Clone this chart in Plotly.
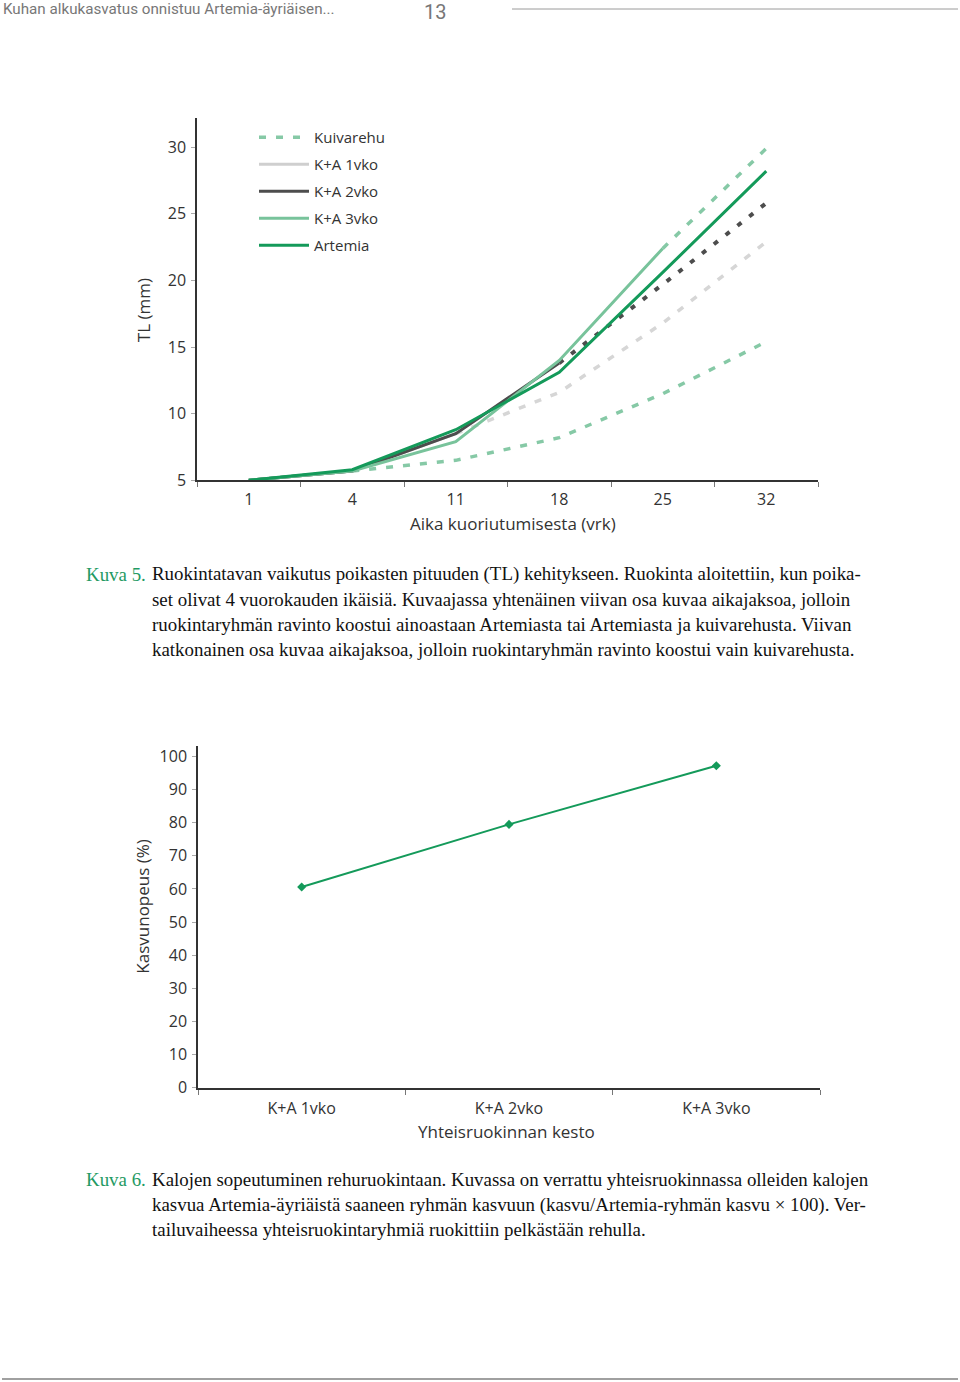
import plotly.graph_objects as go

W, H = 960, 1382          # page coordinates used for placing things
FIG_H = 1394              # figure height (photograph is squeezed to 1382)


def px(x):
    return x / W


def py(y):
    return 1 - y / H


# ---------------- data: figure 5 ----------------
days = ["1", "4", "11", "18", "25", "32"]
kuivarehu = [5.0, 5.7, 6.5, 8.2, 11.5, 15.4]
ka_1vko = [5.0, 5.7, 8.5, 11.6, 16.8, 22.9]
ka_2vko = [5.0, 5.7, 8.5, 13.8, 19.7, 25.8]
ka_3vko = [5.0, 5.7, 7.9, 14.0, 22.4, 29.9]
artemia = [5.0, 5.8, 8.8, 13.1, 20.6, 28.2]
series_names = ["Kuivarehu", "K+A 1vko", "K+A 2vko", "K+A 3vko", "Artemia"]
series_values = [kuivarehu, ka_1vko, ka_2vko, ka_3vko, artemia]
# index of the last day on which Artemia was still fed (after it: dry feed only)
last_artemia_index = [1, 2, 3, 4, 5]
y1_ticks = [5, 10, 15, 20, 25, 30]

# ---------------- data: figure 6 ----------------
groups = ["K+A 1vko", "K+A 2vko", "K+A 3vko"]
kasvunopeus = [60.6, 79.5, 97.2]
y2_ticks = [0, 10, 20, 30, 40, 50, 60, 70, 80, 90, 100]

# ---------------- styles ----------------
solid_style = {
    "Kuivarehu": dict(color="#86c9a6", width=3),
    "K+A 1vko": dict(color="#cfcfcf", width=3),
    "K+A 2vko": dict(color="#4d4d4d", width=3),
    "K+A 3vko": dict(color="#78c39b", width=3),
    "Artemia": dict(color="#149a5a", width=3),
}
dash_style = {
    "Kuivarehu": dict(color="#86c9a6", width=3.5, dash="7px,10px"),
    "K+A 1vko": dict(color="#d6d6d6", width=3.5, dash="7px,10px"),
    "K+A 2vko": dict(color="#4d4d4d", width=4, dash="5px,10px"),
    "K+A 3vko": dict(color="#86c9a6", width=3.5, dash="7px,10px"),
    "Artemia": dict(color="#149a5a", width=3, dash="7px,10px"),
}

FONT = "Open Sans"
TXT = "#333333"

fig = go.Figure()

for rank, (name, vals, sw) in enumerate(zip(series_names, series_values, last_artemia_index)):
    legend_on_dash = sw <= 1
    fig.add_trace(go.Scatter(
        x=days[: sw + 1], y=vals[: sw + 1], mode="lines", name=name,
        line=solid_style[name], legendgroup=name, legendrank=rank + 1,
        showlegend=not legend_on_dash, xaxis="x", yaxis="y", hoverinfo="x+y+name",
    ))
    if sw < len(days) - 1:
        fig.add_trace(go.Scatter(
            x=days[sw:], y=vals[sw:], mode="lines", name=name,
            line=dash_style[name], legendgroup=name, legendrank=rank + 1,
            showlegend=legend_on_dash, xaxis="x", yaxis="y", hoverinfo="x+y+name",
        ))

fig.add_trace(go.Scatter(
    x=groups, y=kasvunopeus, mode="lines+markers", name="Kasvunopeus",
    line=dict(color="#149a5a", width=2),
    marker=dict(symbol="diamond", size=7, color="#149a5a"),
    showlegend=False, xaxis="x2", yaxis="y2",
))

axis_common = dict(
    showgrid=False, zeroline=False, showline=True, linecolor="#333333", linewidth=1.5,
    tickfont=dict(family=FONT, size=16, color=TXT), ticks="outside",
)

fig.update_layout(
    width=W, height=FIG_H,
    margin=dict(l=0, r=0, t=0, b=0),
    paper_bgcolor="white", plot_bgcolor="white",
    font=dict(family=FONT, color=TXT),
    xaxis=dict(
        **axis_common, domain=[px(197), px(818)], anchor="y", type="category",
        categoryorder="array", categoryarray=days,
        range=[-0.5, 5.5], tickson="boundaries", ticklen=5, tickcolor="#777777",
        ticklabelstandoff=4,
    ),
    yaxis=dict(
        **axis_common, domain=[py(480), py(118)], anchor="x",
        range=[5, 32.18], tickvals=y1_ticks, ticklen=4, tickcolor="#aaaaaa",
        ticklabelstandoff=2,
    ),
    xaxis2=dict(
        **axis_common, domain=[px(198), px(820)], anchor="y2", type="category",
        categoryorder="array", categoryarray=groups,
        range=[-0.5, 2.5], tickson="boundaries", ticklen=5, tickcolor="#777777",
        ticklabelstandoff=5,
    ),
    yaxis2=dict(
        **axis_common, domain=[py(1087), py(745)], anchor="x2",
        range=[0, 103.3], tickvals=y2_ticks, ticklen=4, tickcolor="#aaaaaa",
        ticklabelstandoff=2,
    ),
    legend=dict(
        x=px(254), y=py(121), xanchor="left", yanchor="top",
        font=dict(family=FONT, size=15, color=TXT), bgcolor="rgba(255,255,255,0)",
        traceorder="grouped", tracegroupgap=4.5, itemwidth=50,
    ),
    showlegend=True,
)

ann = []
# axis titles
ann.append(dict(text="TL (mm)", x=px(143), y=py(310), textangle=-90,
                font=dict(family=FONT, size=17, color=TXT)))
ann.append(dict(text="Aika kuoriutumisesta (vrk)", x=px(513), y=py(523),
                font=dict(family=FONT, size=17, color=TXT)))
ann.append(dict(text="Kasvunopeus (%)", x=px(143), y=py(906), textangle=-90,
                font=dict(family=FONT, size=17, color=TXT)))
ann.append(dict(text="Yhteisruokinnan kesto", x=px(507), y=py(1131),
                font=dict(family=FONT, size=17, color=TXT)))

# header
ann.append(dict(text="Kuhan alkukasvatus onnistuu Artemia-äyriäisen...", x=px(1), y=py(9),
                xanchor="left", font=dict(family="Roboto", size=15.2, color="#777777")))
ann.append(dict(text="13", x=px(435), y=py(11.5),
                font=dict(family="Roboto", size=20, color="#777777")))

CAP = dict(family="Liberation Serif", size=18.9, color="#111111")
GREEN = dict(family="Liberation Serif", size=18.9, color="#1f9a63")
cap5 = [
    "Ruokintatavan vaikutus poikasten pituuden (TL) kehitykseen. Ruokinta aloitettiin, kun poika-",
    "set olivat 4 vuorokauden ikäisiä. Kuvaajassa yhtenäinen viivan osa kuvaa aikajaksoa, jolloin",
    "ruokintaryhmän ravinto koostui ainoastaan Artemiasta tai Artemiasta ja kuivarehusta. Viivan",
    "katkonainen osa kuvaa aikajaksoa, jolloin ruokintaryhmän ravinto koostui vain kuivarehusta.",
]
cap6 = [
    "Kalojen sopeutuminen rehuruokintaan. Kuvassa on verrattu yhteisruokinnassa olleiden kalojen",
    "kasvua Artemia-äyriäistä saaneen ryhmän kasvuun (kasvu/Artemia-ryhmän kasvu × 100). Ver-",
    "tailuvaiheessa yhteisruokintaryhmiä ruokittiin pelkästään rehulla.",
]
ann.append(dict(text="Kuva 5.", x=px(84), y=py(574), xanchor="left", font=GREEN))
for i, line in enumerate(cap5):
    ann.append(dict(text=line, x=px(150), y=py(574 + 25 * i), xanchor="left", font=CAP))
ann.append(dict(text="Kuva 6.", x=px(84), y=py(1179), xanchor="left", font=GREEN))
for i, line in enumerate(cap6):
    ann.append(dict(text=line, x=px(150), y=py(1179 + 25 * i), xanchor="left", font=CAP))

for a in ann:
    a.setdefault("xanchor", "center")
    a.update(xref="paper", yref="paper", yanchor="middle", showarrow=False)
fig.update_layout(annotations=ann)

fig.update_layout(shapes=[
    dict(type="line", xref="paper", yref="paper", x0=px(512), x1=px(958), y0=py(9), y1=py(9),
         line=dict(color="#9a9a9a", width=1)),
    dict(type="line", xref="paper", yref="paper", x0=px(2), x1=px(958), y0=py(1378), y1=py(1378),
         line=dict(color="#a0a0a0", width=2)),
])

page_fix = (
    "document.documentElement.style.margin='0';"
    "document.body.style.margin='0';"
    "document.body.style.padding='0';"
)
fig.write_html("out.html", post_script=page_fix, config={"displayModeBar": False})
